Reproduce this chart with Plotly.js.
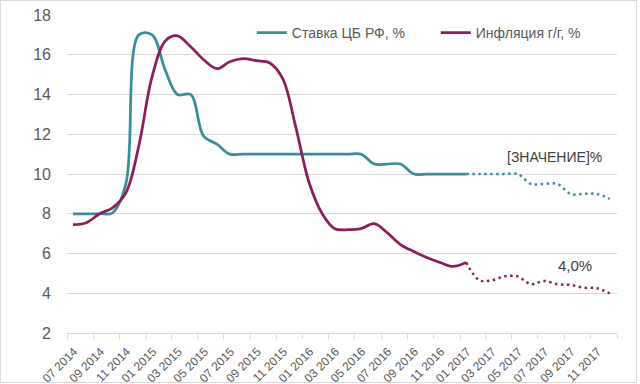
<!DOCTYPE html>
<html>
<head>
<meta charset="utf-8">
<script src="https://cdn.plot.ly/plotly-3.0.1.min.js"></script>
<style>
  html, body { margin: 0; padding: 0; background: #ffffff; }
  #wrap { position: relative; width: 640px; height: 384px; }
  #chart { position: absolute; left: 0; top: 0; width: 640px; height: 384px; }
  #frame { position: absolute; left: 0; top: 0; width: 637px; height: 383px; box-sizing: border-box; border: 1px solid #d9d9d9; pointer-events: none; }
</style>
</head>
<body>
<div id="wrap"><div id="chart"></div><div id="frame"></div></div>
<script>
// Monthly dates (actual part, Jul 2014 – Jan 2017)
const monthsActual = [
  '2014-07-15','2014-08-15','2014-09-15','2014-10-15','2014-11-15','2014-12-15',
  '2015-01-15','2015-02-15','2015-03-15','2015-04-15','2015-05-15','2015-06-15',
  '2015-07-15','2015-08-15','2015-09-15','2015-10-15','2015-11-15','2015-12-15',
  '2016-01-15','2016-02-15','2016-03-15','2016-04-15','2016-05-15','2016-06-15',
  '2016-07-15','2016-08-15','2016-09-15','2016-10-15','2016-11-15','2016-12-15',
  '2017-01-15'
];
// Forecast part, Jan 2017 – Dec 2017
const monthsForecast = [
  '2017-01-15','2017-02-15','2017-03-15','2017-04-15','2017-05-15','2017-06-15',
  '2017-07-15','2017-08-15','2017-09-15','2017-10-15','2017-11-15','2017-12-15'
];
// Key rate of the CBR, %
const keyRateActual = [
  8, 8, 8, 8.05, 9.5, 17,
  17, 15.2, 14, 14, 11.9, 11.5,
  11, 11, 11, 11, 11, 11,
  11, 11, 11, 11, 11, 10.5,
  10.5, 10.5, 10, 10, 10, 10,
  10
];
const keyRateForecast = [10, 10, 10, 10, 10, 9.5, 9.5, 9.5, 9, 9, 9, 8.75];
// Inflation y/y, %
const inflationActual = [
  7.45, 7.55, 8.0, 8.3, 9.05, 11.4,
  14.9, 16.7, 16.95, 16.4, 15.75, 15.3,
  15.65, 15.8, 15.7, 15.6, 14.8, 12.4,
  9.6, 8.0, 7.25, 7.2, 7.25, 7.5,
  7.05, 6.45, 6.1, 5.8, 5.55, 5.35,
  5.55
];
const inflationForecast = [5.55, 4.65, 4.65, 4.85, 4.85, 4.45, 4.62, 4.45, 4.42, 4.28, 4.25, 4.0];

// Axis ticks
const xTickVals = [
  '2014-07-01','2014-09-01','2014-11-01','2015-01-01','2015-03-01','2015-05-01','2015-07-01',
  '2015-09-01','2015-11-01','2016-01-01','2016-03-01','2016-05-01','2016-07-01','2016-09-01',
  '2016-11-01','2017-01-01','2017-03-01','2017-05-01','2017-07-01','2017-09-01','2017-11-01',
  '2018-01-01'
];
const xTickText = [
  '07 2014','09 2014','11 2014','01 2015','03 2015','05 2015','07 2015',
  '09 2015','11 2015','01 2016','03 2016','05 2016','07 2016','09 2016',
  '11 2016','01 2017','03 2017','05 2017','07 2017','09 2017','11 2017',
  ''
];
const seriesNames = ['Ставка ЦБ РФ, %', 'Инфляция г/г, %'];
const labelTexts = ['[ЗНАЧЕНИЕ]%', '4,0%'];

const TEAL = '#3a8e98';
const PLUM = '#8e1d5c';
const FONT = 'Liberation Sans, Arial, sans-serif';

const traces = [
  { x: monthsActual, y: keyRateActual, name: seriesNames[0], type: 'scatter', mode: 'lines',
    line: { color: TEAL, width: 2.75, shape: 'spline', smoothing: 1 }, hoverinfo: 'skip' },
  { x: monthsActual, y: inflationActual, name: seriesNames[1], type: 'scatter', mode: 'lines',
    line: { color: PLUM, width: 2.75, shape: 'spline', smoothing: 1 }, hoverinfo: 'skip' },
  { x: monthsForecast, y: keyRateForecast, showlegend: false, type: 'scatter', mode: 'lines',
    line: { color: TEAL, width: 2.5, shape: 'spline', smoothing: 1, dash: '2.5px,3.5px' }, hoverinfo: 'skip' },
  { x: monthsForecast, y: inflationForecast, showlegend: false, type: 'scatter', mode: 'lines',
    line: { color: PLUM, width: 2.5, shape: 'spline', smoothing: 1, dash: '2.5px,3.5px' }, hoverinfo: 'skip' }
];

const layout = {
  width: 640, height: 384,
  margin: { l: 67, r: 23, t: 15, b: 51, pad: 0, autoexpand: false },
  paper_bgcolor: '#ffffff', plot_bgcolor: '#ffffff',
  font: { family: FONT, color: '#595959' },
  showlegend: true,
  legend: {
    orientation: 'h', x: 0.336, xanchor: 'left', y: 0.943, yanchor: 'middle',
    font: { family: FONT, size: 14, color: '#595959' },
    bgcolor: 'rgba(0,0,0,0)', entrywidth: 139, entrywidthmode: 'pixels',
    itemclick: false, itemdoubleclick: false
  },
  xaxis: {
    type: 'date', range: ['2014-07-01', '2018-01-01'],
    tickmode: 'array', tickvals: xTickVals, ticktext: xTickText,
    tickangle: -45, ticks: 'outside', ticklen: 5, tickcolor: '#d9d9d9', tickwidth: 1,
    ticklabelshift: 7, ticklabelstandoff: 1,
    showline: true, linecolor: '#d9d9d9', linewidth: 1,
    showgrid: false, zeroline: false,
    tickfont: { family: FONT, size: 12, color: '#595959' }
  },
  yaxis: {
    range: [2, 18], tickmode: 'linear', tick0: 2, dtick: 2,
    showgrid: true, gridcolor: '#d9d9d9', gridwidth: 1,
    zeroline: false, showline: false, ticks: '', ticklabelstandoff: 15,
    tickfont: { family: FONT, size: 16, color: '#595959' }
  },
  annotations: [
    { text: labelTexts[0], xref: 'paper', yref: 'paper', x: 0.887, y: 0.553,
      xanchor: 'center', yanchor: 'middle', showarrow: false,
      font: { family: FONT, size: 14, color: '#404040' } },
    { text: labelTexts[1], xref: 'paper', yref: 'paper', x: 0.924, y: 0.211,
      xanchor: 'center', yanchor: 'middle', showarrow: false,
      font: { family: FONT, size: 15, color: '#404040' } }
  ]
};

Plotly.newPlot('chart', traces, layout, { staticPlot: true, displayModeBar: false });
</script>
</body>
</html>
